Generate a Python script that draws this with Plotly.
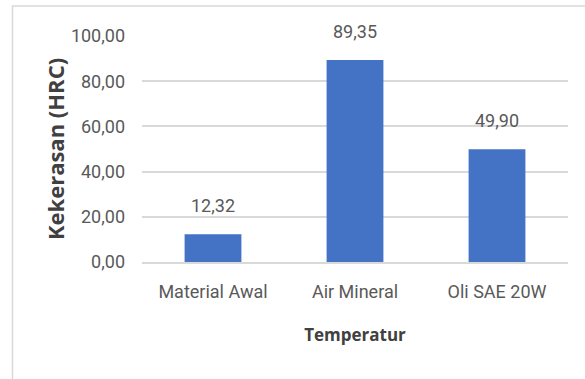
import plotly.graph_objects as go

# Hardness after quenching in different media
categories = ["Material Awal", "Air Mineral", "Oli SAE 20W"]
hardness = [12.32, 89.35, 49.90]
y_ticks = [0, 20, 40, 60, 80, 100]

BAR = "#4472C4"
GRID = "#D9D9D9"
TXT = "#595959"
TICK_FONT = dict(family="Roboto, sans-serif", size=18, color=TXT)
XTITLE_FONT = dict(family="Open Sans, DejaVu Sans, sans-serif", size=17, color="#404040")
YTITLE_FONT = dict(family="Open Sans, DejaVu Sans, sans-serif", size=22, color="#404040")

fig = go.Figure(
    go.Bar(
        x=categories,
        y=hardness,
        marker=dict(color=BAR, line=dict(width=0)),
        width=0.4,
        hoverinfo="skip",
    )
)

# value labels above each bar
for c, v in zip(categories, hardness):
    fig.add_annotation(
        x=c, y=v, text=f"{v:.2f}".replace(".", ","),
        showarrow=False, yanchor="bottom", yshift=16,
        font=TICK_FONT,
    )

fig.update_layout(
    width=585,
    height=379,
    margin=dict(l=142, r=17, t=36, b=117),
    paper_bgcolor="white",
    plot_bgcolor="white",
    separators=",.",
    showlegend=False,
    xaxis=dict(
        showgrid=False,
        showline=True,
        linecolor=GRID,
        linewidth=1.5,
        ticks="",
        ticklabelstandoff=13,
        tickfont=TICK_FONT,
        title=dict(text="<b>Temperatur</b>", font=XTITLE_FONT, standoff=28),
    ),
    yaxis=dict(
        range=[0, 100],
        tickvals=y_ticks,
        tickformat=".2f",
        showgrid=True,
        gridcolor=GRID,
        gridwidth=1.5,
        zeroline=False,
        showline=False,
        ticks="",
        ticklabelstandoff=16,
        tickfont=TICK_FONT,
        title=dict(text="<b>Kekerasan (HRC)</b>", font=YTITLE_FONT, standoff=0),
    ),
    shapes=[
        dict(
            type="path", xref="paper", yref="paper",
            path="M -0.304 -0.7 L -0.304 1.1327 L 1.2 1.1327",
            line=dict(color=GRID, width=1.5),
        )
    ],
)

fig.write_html("out.html")
